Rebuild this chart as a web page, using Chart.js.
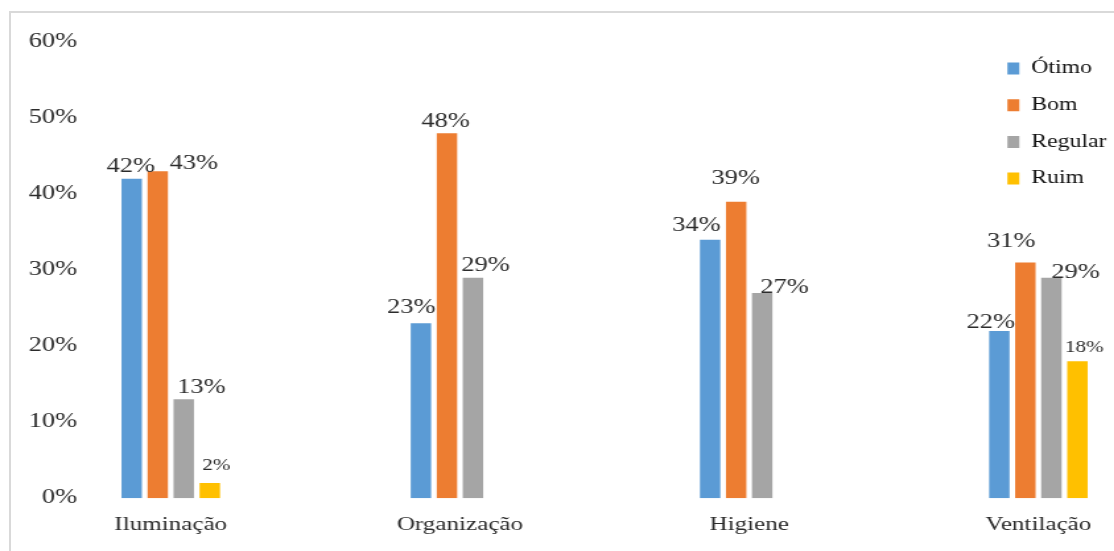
<!DOCTYPE html>
<html>
<head>
<meta charset="utf-8">
<script src="https://cdn.jsdelivr.net/npm/chart.js@4.4.1/dist/chart.umd.min.js"></script>
<style>
html,body{margin:0;padding:0;background:#fff;}
#frame{position:relative;width:1114px;height:551px;overflow:hidden;background:#fff;}
#stretch{position:absolute;left:0;top:0;width:900px;height:551px;transform:scaleX(1.32);transform-origin:0 0;}
#c{display:block;}
.bt{position:absolute;left:9px;top:11px;width:1200px;height:2px;background:#d9d9d9;}
.bl{position:absolute;left:9px;top:11px;width:2px;height:600px;background:#d9d9d9;}
</style>
</head>
<body>
<div id="frame">
  <div id="stretch"><canvas id="c" width="900" height="551"></canvas></div>
  <div class="bt"></div><div class="bl"></div>
</div>
<script>
// ---- data ----
const categories = ['Iluminação', 'Organização', 'Higiene', 'Ventilação'];
const seriesNames = ['Ótimo', 'Bom', 'Regular', 'Ruim'];
const otimo   = [42, 23, 34, 22];
const bom     = [43, 48, 39, 31];
const regular = [13, 29, 27, 29];
const ruim    = [2, null, null, 18];
const yTicks  = [0, 10, 20, 30, 40, 50, 60];

// ---- styles ----
const colors = ['#5B9BD5', '#ED7D31', '#A5A5A5', '#FFC000'];
const FONT = '"Liberation Serif", "Times New Roman", serif';
const TEXT = '#2b2b2b';
const labelSize = [20, 20, 20, 16];
// data-label nudges (canvas px): [dx, gap above bar top]
const labelNudge = [
  [[-0.7, 6.7], [-7.3, 10], [-10.4, 8.4], [-6.5, 2.7]],
  [[27.3, 2.3], [-1.1, 6.7], [-0.4, 17.3], [-10.6, 15]],
  [[13.4, 6.6], [9.6, 6.7], [17, 0], [18.2, 0]],
  [[5.1, 13.3], [0, 0], [0, 0], [5.3, 9]]
];
const LEG_X = 744.5, LEG_Y = 40.8;

const seriesValues = [otimo, bom, regular, ruim];

const valueLabels = {
  id: 'valueLabels',
  afterDatasetsDraw(chart) {
    const ctx = chart.ctx;
    ctx.save();
    ctx.fillStyle = TEXT;
    ctx.textAlign = 'center';
    ctx.textBaseline = 'alphabetic';
    chart.data.datasets.forEach((ds, di) => {
      const meta = chart.getDatasetMeta(di);
      ctx.font = labelSize[di] + 'px ' + FONT;
      meta.data.forEach((bar, i) => {
        const v = ds.data[i];
        if (v === null || v === undefined) return;
        const n = labelNudge[di][i];
        ctx.fillText(v + '%', bar.x + n[0], bar.y - n[1]);
      });
    });
    ctx.restore();
  }
};

const legendPlacer = {
  id: 'legendPlacer',
  afterLayout(chart) {
    const lg = chart.legend;
    if (!lg) return;
    const w = lg.width, h = lg.height;
    lg.left = LEG_X; lg.right = LEG_X + w;
    lg.top = LEG_Y; lg.bottom = LEG_Y + h;
  }
};

new Chart(document.getElementById('c'), {
  type: 'bar',
  data: {
    labels: categories,
    datasets: seriesNames.map((name, k) => ({
      label: name,
      data: seriesValues[k],
      backgroundColor: colors[k],
      borderWidth: 0,
      categoryPercentage: 0.36,
      barPercentage: 0.785
    }))
  },
  options: {
    responsive: false,
    animation: false,
    layout: { padding: { left: 15.8, right: 3.8, top: 42, bottom: 0 } },
    plugins: {
      tooltip: { enabled: false },
      legend: {
        position: 'chartArea',
        align: 'start',
        labels: {
          font: { family: FONT, size: 18 },
          color: '#111',
          boxWidth: 9,
          boxHeight: 12,
          padding: 18.7
        }
      }
    },
    scales: {
      x: {
        type: 'category',
        offset: true,
        grid: { display: false, drawTicks: false },
        border: { display: false },
        ticks: {
          font: { family: FONT, size: 19 },
          color: TEXT,
          padding: 15,
          maxRotation: 0,
          autoSkip: false
        }
      },
      y: {
        min: yTicks[0],
        max: yTicks[yTicks.length - 1],
        afterBuildTicks(scale) { scale.ticks = yTicks.map(v => ({ value: v })); },
        grid: { display: false, drawTicks: false },
        border: { display: false },
        ticks: {
          mirror: true,
          crossAlign: 'far',
          padding: 2,
          font: { family: FONT, size: 20 },
          color: TEXT,
          callback: v => v + '%'
        }
      }
    }
  },
  plugins: [valueLabels, legendPlacer]
});
</script>
</body>
</html>
